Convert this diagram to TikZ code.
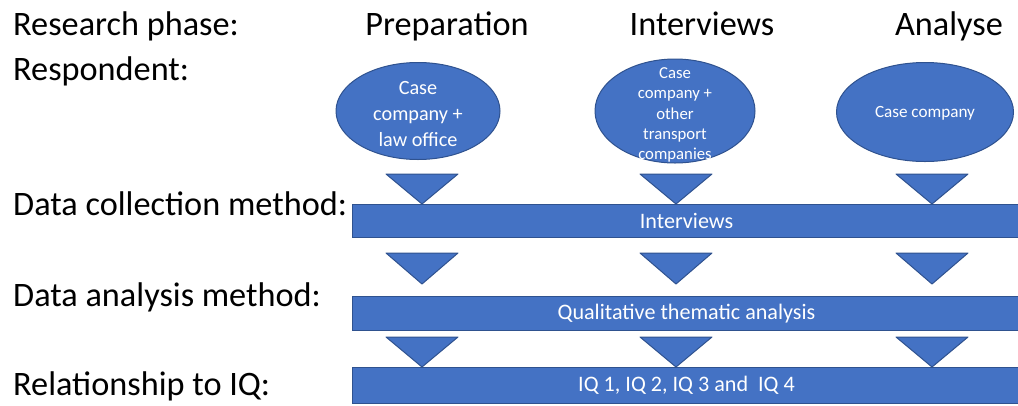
\documentclass[tikz,border=0pt]{standalone}
\usepackage{fontspec}
\setmainfont{Carlito}
\usetikzlibrary{shapes.geometric}
\definecolor{boxblue}{HTML}{4472C4}
\definecolor{boxedge}{HTML}{2F528F}
\tikzset{
  rowlabel/.style={anchor=base west, inner sep=0, font=\fontsize{34.4}{41}\selectfont},
  phasehead/.style={anchor=base, inner sep=0, font=\fontsize{34.4}{41}\selectfont},
  resp/.style={ellipse, draw=boxedge, fill=boxblue, line width=1bp, inner sep=0},
  resptext/.style={text=white, align=center, inner sep=0},
  stage/.style={draw=boxedge, fill=boxblue, line width=1bp, text=white,
    anchor=north west, inner sep=0, minimum width=668bp,
    font=\fontsize{22.2}{26}\selectfont},
  chev/.style={draw=boxedge, fill=boxblue, line width=1bp, line join=round}
}

\begin{document}
\begin{tikzpicture}[x=1bp, y=-1bp]
\useasboundingbox (0,0) rectangle (1018,405);
\clip (0,0) rectangle (1018,405);

% row titles on the left
\node[rowlabel] (lphase) at (13,35) {Research phase:};
\node[rowlabel] (lresp) at (13,80) {Respondent:};
\node[rowlabel] (lcollect) at (13,215) {Data collection method:};
\node[rowlabel] (lanalysis) at (13,306) {Data analysis method:};
\node[rowlabel] (lrelation) at (13,395) {Relationship to IQ:};

% the three phases
\node[phasehead] (hprep) at (447,35) {Preparation};
\node[phasehead] (hintv) at (702,35) {Interviews};
\node[phasehead] (hanl) at (949,35) {Analyse};

% respondents
\node[resp, minimum width=164bp, minimum height=97bp] (prep) at (418,111) {};
\node[resptext, font=\fontsize{20.3}{26}\selectfont, yshift=-3bp] at (prep) {Case\\company +\\law office};
\node[resp, minimum width=160bp, minimum height=104bp] (intv) at (675,111) {};
\node[resptext, font=\fontsize{16.8}{20.4}\selectfont, yshift=-4bp] at (intv) {Case\\company +\\other\\transport\\companies};
\node[resp, minimum width=177bp, minimum height=99bp] (anl) at (925,112) {};
\node[resptext, font=\fontsize{17.2}{20}\selectfont, yshift=-1bp] at (anl) {Case company};

% down arrows between the levels
\foreach \cx in {422,676,932}{
  \foreach \ty/\by in {174/204, 253/284, 337/367}
    \draw[chev] (\cx-36,\ty) -- (\cx+36,\ty) -- (\cx,\by) -- cycle;
}

% methods
\node[stage, minimum height=33bp] (collect) at (352,204) {Interviews};
\node[stage, minimum height=34bp] (analysis) at (352,296) {Qualitative thematic analysis};
\node[stage, minimum height=36bp] (relation) at (352,367) {IQ 1, IQ 2, IQ 3 and \ IQ 4};
\end{tikzpicture}
\end{document}
